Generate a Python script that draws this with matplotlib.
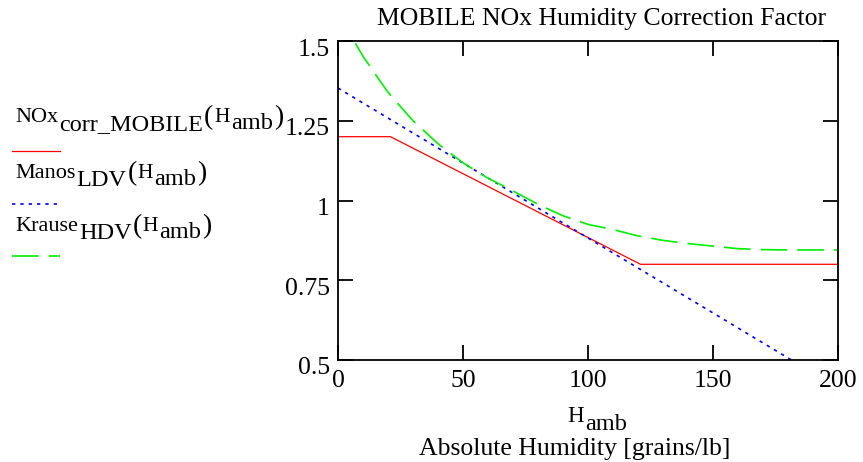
import numpy as np
import matplotlib
matplotlib.use('Agg')
import matplotlib.pyplot as plt
from matplotlib.lines import Line2D
from matplotlib.transforms import ScaledTranslation

plt.rcParams['font.family'] = ['Liberation Serif', 'DejaVu Serif']

# MOBILE NOx correction (piecewise)
mobile_h = [0, 21, 121, 200]
mobile_f = [1.2, 1.2, 0.8, 0.8]

# Manos LDV (straight line)
manos_h = [0, 200]
manos_f = [1.3525, 0.4125]

# Krause HDV (curve, read at 10 grains/lb steps)
krause_h = [0, 5, 10, 20, 30, 40, 50, 60, 70, 80, 90, 100,
            110, 120, 130, 140, 150, 160, 170, 180, 190, 200]
krause_f = [1.594, 1.519, 1.452, 1.339, 1.250, 1.178, 1.118, 1.070, 1.030, 0.988, 0.952, 0.925,
            0.909, 0.889, 0.875, 0.865, 0.857, 0.849, 0.846, 0.845, 0.845, 0.845]

x_ticks = [0, 50, 100, 150, 200]
y_ticks = [0.5, 0.75, 1, 1.25, 1.5]
y_tick_labels = ['0.5', '0.75', '1', '1.25', '1.5']

W, H = 863, 462
fig = plt.figure(figsize=(W/100, H/100), dpi=100)
ax = fig.add_axes([338/W, 1 - 360/H, 500/W, 319/H])

red = dict(color='#ff0000', lw=0.9, linestyle='-')
blue = dict(color='#0000ff', lw=1.2, linestyle=(0, (2, 3)))
green = dict(color='#00ee00', lw=1.2, linestyle=(0, (16, 6)))

ax.plot(mobile_h, mobile_f, **red)
ax.plot(manos_h, manos_f, **blue)
ax.plot(krause_h, krause_f, **green)

ax.set_xlim(0, 200)
ax.set_ylim(0.5, 1.5)
ax.set_xticks(x_ticks)
ax.set_yticks(y_ticks)
ax.set_yticklabels(y_tick_labels)
ax.tick_params(direction='in', length=11, width=1.3, top=True, right=True,
               labelsize=18.5, pad=7)
ax.tick_params(axis='y', pad=6)
for s in ax.spines.values():
    s.set_linewidth(1.3)

off = ScaledTranslation(0, -6/100, fig.dpi_scale_trans)
for lab in ax.get_yticklabels():
    lab.set_transform(lab.get_transform() + off)

renderer = fig.canvas.get_renderer()


def draw_parts(x_px, base_px, parts):
    # chain text pieces left to right; each piece: (text, size, shift down px)
    for s, size, down in parts:
        t = fig.text(x_px/W, 1 - (base_px + down)/H, s, fontsize=size,
                     ha='left', va='baseline')
        x_px = t.get_window_extent(renderer).x1 + 1


fig.text(602/W, 1 - 19/H, 'MOBILE NOx Humidity Correction Factor',
         ha='center', va='center', fontsize=18.5)
draw_parts(567, 422, [('H', 16.5, 0), ('amb', 17.5, 8)])
fig.text(575/W, 1 - 449/H, 'Absolute Humidity [grains/lb]',
         ha='center', va='center', fontsize=18.5)

# legend on left: label text above a short line sample
legend_names = [('NOx', 'corr_MOBILE'), ('Manos', 'LDV'), ('Krause', 'HDV')]
label_base = [122, 178, 231]
line_y = [151, 204, 256]
for (name, sub), by, ly, st in zip(legend_names, label_base, line_y, [red, blue, green]):
    draw_parts(15, by, [(name, 16, 0), (sub, 17.5, 8), ('(', 20, 2),
                        ('H', 15.5, 0), ('amb', 17.5, 7), (')', 20, 2)])
    fig.add_artist(Line2D([12/W, 60/W], [1 - ly/H, 1 - ly/H],
                          transform=fig.transFigure, **st))

fig.savefig('out.png', dpi=100)
